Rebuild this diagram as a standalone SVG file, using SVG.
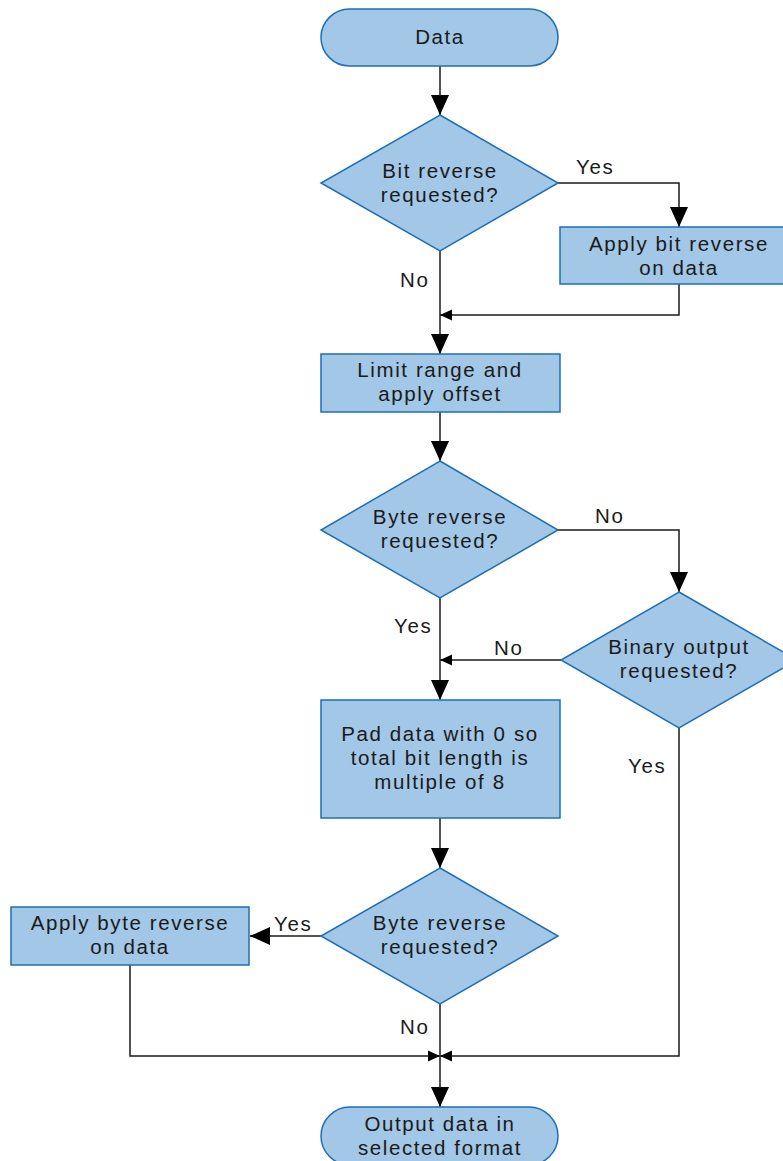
<svg xmlns="http://www.w3.org/2000/svg" width="783" height="1161" viewBox="0 0 783 1161">
<defs>
<style>
.n{fill:#a2c7e7;stroke:#1e6fb3;stroke-width:1.5}
.t{font-family:"Liberation Sans",Arial,sans-serif;font-size:20.5px;letter-spacing:1.6px;fill:#1a1a1a;text-anchor:middle}
.l{font-family:"Liberation Sans",Arial,sans-serif;font-size:20.5px;letter-spacing:1.6px;fill:#1a1a1a}
.c{fill:none;stroke:#1a1a1a;stroke-width:1.5}
</style>
<marker id="big" markerUnits="userSpaceOnUse" markerWidth="20" markerHeight="20" viewBox="0 0 20 20" refX="20" refY="10" orient="auto">
<path d="M0,1 L20,10 L0,19 Z" fill="#000"/>
</marker>
<marker id="small" markerUnits="userSpaceOnUse" markerWidth="12" markerHeight="12" viewBox="0 0 12 12" refX="12" refY="6" orient="auto">
<path d="M0,0.5 L12,6 L0,11.5 Z" fill="#000"/>
</marker>
</defs>
<rect width="783" height="1161" fill="#fff"/>
<g id="connectors">
<path class="c" d="M440,66 V115" marker-end="url(#big)"/>
<path class="c" d="M558,183 H679 V227" marker-end="url(#big)"/>
<path class="c" d="M679,284 V315 H440" marker-end="url(#small)"/>
<path class="c" d="M440,251 V354" marker-end="url(#big)"/>
<path class="c" d="M440,412 V461" marker-end="url(#big)"/>
<path class="c" d="M558,530 H679 V592" marker-end="url(#big)"/>
<path class="c" d="M561,660 H440" marker-end="url(#small)"/>
<path class="c" d="M440,598 V700" marker-end="url(#big)"/>
<path class="c" d="M440,818 V868" marker-end="url(#big)"/>
<path class="c" d="M321,936 H250" marker-end="url(#big)"/>
<path class="c" d="M130,965 V1056 H440" marker-end="url(#small)"/>
<path class="c" d="M679,728 V1056 H440" marker-end="url(#small)"/>
<path class="c" d="M440,1004 V1107" marker-end="url(#big)"/>
<text class="l" x="576" y="174">Yes</text>
<text class="l" x="400" y="287">No</text>
<text class="l" x="595" y="523">No</text>
<text class="l" x="394" y="633">Yes</text>
<text class="l" x="494" y="655">No</text>
<text class="l" x="628" y="773">Yes</text>
<text class="l" x="274" y="931">Yes</text>
<text class="l" x="400" y="1034">No</text>
</g>
<g id="start">
<rect class="n" x="321" y="9" width="237" height="57" rx="28.5"/>
<text class="t" x="440" y="44">Data</text>
</g>
<g id="bitq">
<polygon class="n" points="440,115 558,183 440,251 321,183"/>
<text class="t" x="440" y="178">Bit reverse</text>
<text class="t" x="440" y="202">requested?</text>
</g>
<g id="bitrev">
<rect class="n" x="560" y="227" width="226" height="57"/>
<text class="t" x="679" y="251">Apply bit reverse</text>
<text class="t" x="679" y="275">on data</text>
</g>
<g id="limit">
<rect class="n" x="321" y="354" width="239" height="58"/>
<text class="t" x="440" y="377">Limit range and</text>
<text class="t" x="440" y="401">apply offset</text>
</g>
<g id="byteq1">
<polygon class="n" points="440,461 558,530 440,598 321,530"/>
<text class="t" x="440" y="524">Byte reverse</text>
<text class="t" x="440" y="548">requested?</text>
</g>
<g id="binq">
<polygon class="n" points="679,592 797,660 679,728 561,660"/>
<text class="t" x="679" y="654">Binary output</text>
<text class="t" x="679" y="678">requested?</text>
</g>
<g id="pad">
<rect class="n" x="321" y="700" width="239" height="118"/>
<text class="t" x="440" y="741">Pad data with 0 so</text>
<text class="t" x="440" y="765">total bit length is</text>
<text class="t" x="440" y="789">multiple of 8</text>
</g>
<g id="byteq2">
<polygon class="n" points="440,868 558,936 440,1004 321,936"/>
<text class="t" x="440" y="930">Byte reverse</text>
<text class="t" x="440" y="954">requested?</text>
</g>
<g id="byterev">
<rect class="n" x="11" y="907" width="238" height="58"/>
<text class="t" x="130" y="930">Apply byte reverse</text>
<text class="t" x="130" y="954">on data</text>
</g>
<g id="end">
<rect class="n" x="321" y="1107" width="237" height="58" rx="29"/>
<text class="t" x="440" y="1131">Output data in</text>
<text class="t" x="440" y="1155">selected format</text>
</g>
</svg>
